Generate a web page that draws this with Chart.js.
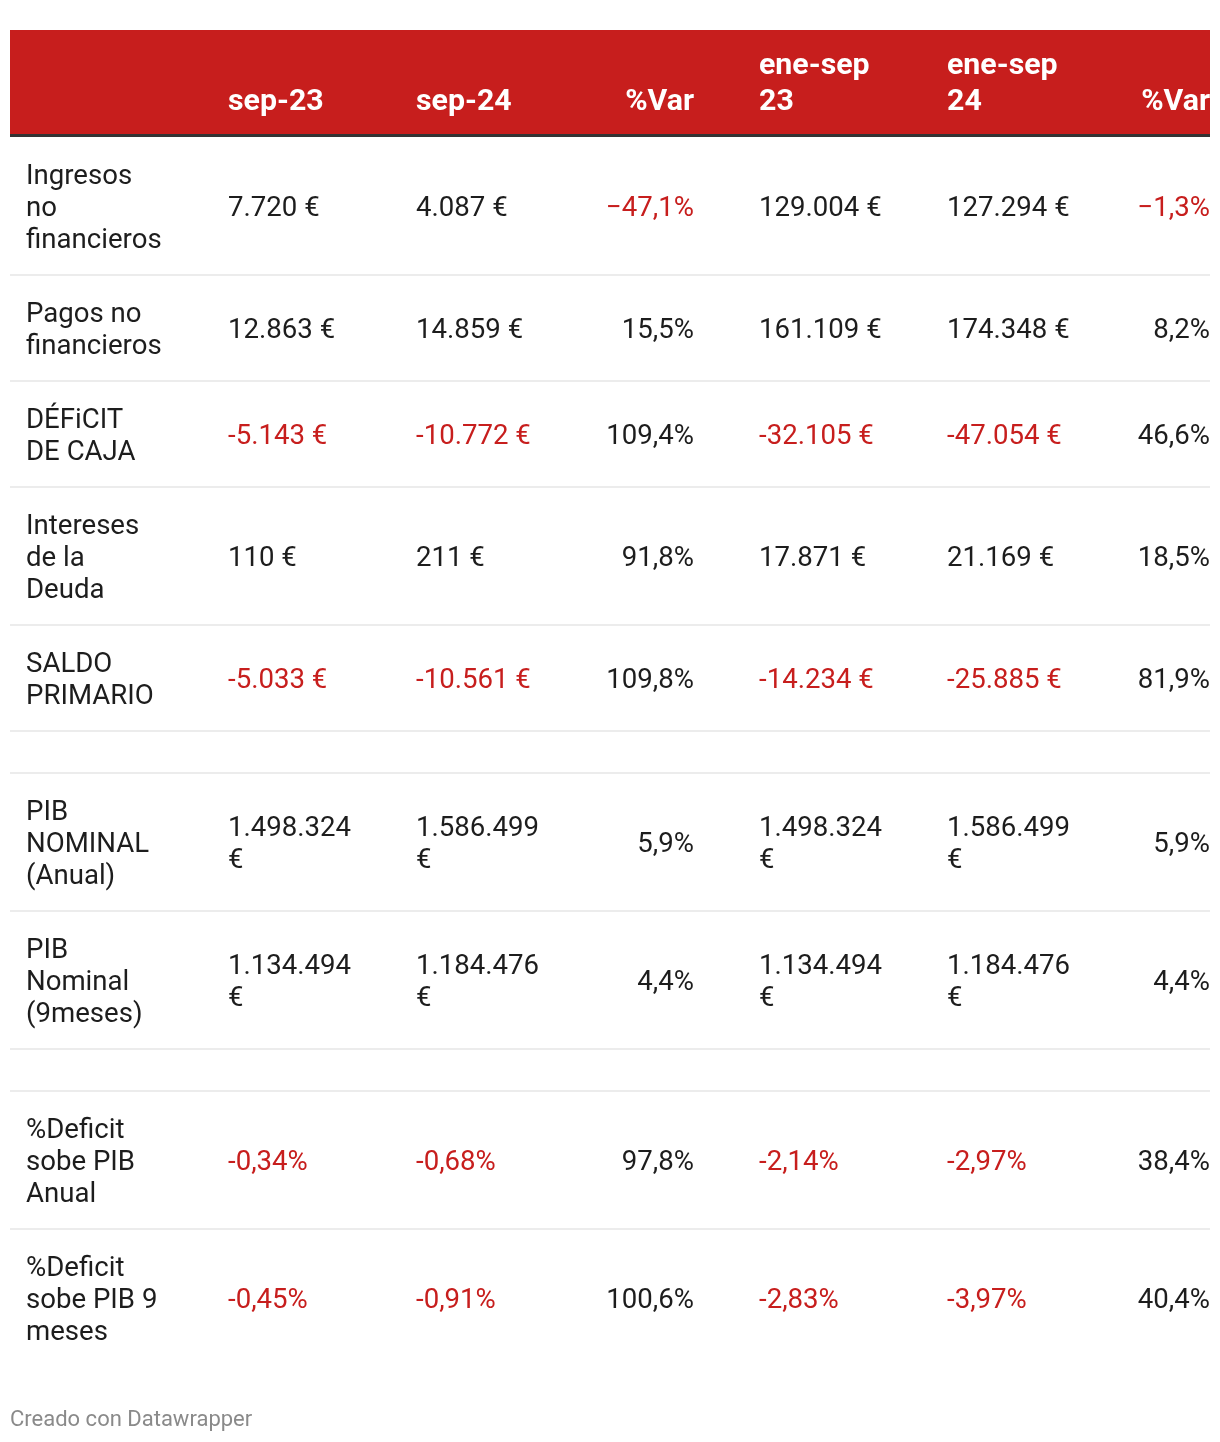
<!DOCTYPE html>
<html>
<head>
<meta charset="utf-8">
<script src="https://cdn.jsdelivr.net/npm/chart.js@4/dist/chart.umd.min.js"></script>
<style>
html,body{margin:0;padding:0;background:#fff;}
#wrap{width:1220px;height:1442px;position:relative;}
</style>
</head>
<body>
<div id="wrap"><canvas id="c" width="1220" height="1442"></canvas></div>
<script>
// ---------- DATA ----------
const headers = ["", "sep-23", "sep-24", "%Var", "ene-sep\n23", "ene-sep\n24", "%Var"];
const rowLabels = [
  "Ingresos\nno\nfinancieros",
  "Pagos no\nfinancieros",
  "DÉFiCIT\nDE CAJA",
  "Intereses\nde la\nDeuda",
  "SALDO\nPRIMARIO",
  "",
  "PIB\nNOMINAL\n(Anual)",
  "PIB\nNominal\n(9meses)",
  "",
  "%Deficit\nsobe PIB\nAnual",
  "%Deficit\nsobe PIB 9\nmeses"
];
const rowUnits = ["€", "€", "€", "€", "€", null, "€", "€", null, "%", "%"];
const sep23    = [7720, 12863, -5143, 110, -5033, null, 1498324, 1134494, null, -0.34, -0.45];
const sep24    = [4087, 14859, -10772, 211, -10561, null, 1586499, 1184476, null, -0.68, -0.91];
const varMes   = [-47.1, 15.5, 109.4, 91.8, 109.8, null, 5.9, 4.4, null, 97.8, 100.6];
const eneSep23 = [129004, 161109, -32105, 17871, -14234, null, 1498324, 1134494, null, -2.14, -2.83];
const eneSep24 = [127294, 174348, -47054, 21169, -25885, null, 1586499, 1184476, null, -2.97, -3.97];
const varAcum  = [-1.3, 8.2, 46.6, 18.5, 81.9, null, 5.9, 4.4, null, 38.4, 40.4];
const footerText = "Creado con Datawrapper";

// ---------- LAYOUT / STYLE ----------
const W = 1220, H = 1442;
const tableLeft = 10, tableRight = 1210;
const headerTop = 30, headerBottom = 134, bodyTop = 137;
const lineH = 32, rowPad = 42, headLineH = 36, headLastLine = 102.5;
const textShift = 3;
const colAnchor = [26, 228, 416, 694, 759, 947, 1210];
const colAlign  = ["left", "left", "left", "right", "left", "left", "right"];
const colKind   = ["label", "val", "val", "var", "val", "val", "var"];
const valueWrap = 135;
const RED = "#c71e1d", TEXT = "#1d1d1d";
const FONT = "Roboto, 'Noto Sans', sans-serif";
const bodyFont = "400 27.6px " + FONT;
const headFont = "700 30.3px " + FONT;

function groupThousands(n) {
  return String(n).replace(/\B(?=(\d{3})+(?!\d))/g, ".");
}
function fmt(kind, v, unit) {
  if (v === null || v === undefined) return "";
  if (kind === "var") {
    const s = Math.abs(v).toFixed(1).replace(".", ",") + "%";
    return (v < 0 ? "\u2212" : "") + s;
  }
  if (unit === "%") {
    return (v < 0 ? "-" : "") + Math.abs(v).toFixed(2).replace(".", ",") + "%";
  }
  return (v < 0 ? "-" : "") + groupThousands(Math.abs(v)) + " €";
}

const columns = [rowLabels, sep23, sep24, varMes, eneSep23, eneSep24, varAcum];

const mctx = document.createElement("canvas").getContext("2d");
function wrapText(txt, maxW) {
  if (!txt) return [];
  mctx.font = bodyFont;
  if (mctx.measureText(txt).width <= maxW) return [txt];
  const words = txt.split(" ");
  const lines = [];
  let cur = "";
  for (const w of words) {
    const t = cur ? cur + " " + w : w;
    if (cur && mctx.measureText(t).width > maxW) { lines.push(cur); cur = w; }
    else cur = t;
  }
  if (cur) lines.push(cur);
  return lines;
}

const cells = columns.map((col, c) => col.map((v, r) => {
  if (colKind[c] === "label") return { lines: v ? v.split("\n") : [], red: false };
  const s = fmt(colKind[c], v, rowUnits[r]);
  return { lines: colKind[c] === "val" ? wrapText(s, valueWrap) : (s ? [s] : []), red: v !== null && v < 0 };
}));

const rowLines = rowLabels.map((_, r) => Math.max(0, ...cells.map(col => col[r].lines.length)));
const rowTops = [], rowCenters = [];
let yy = bodyTop;
rowLines.forEach(n => {
  const h = n * lineH + rowPad;
  rowTops.push(yy);
  rowCenters.push(yy + h / 2);
  yy += h;
});
const rowEnds = rowTops.map((t, i) => t + rowLines[i] * lineH + rowPad);

const datasets = columns.map((col, c) => ({
  label: headers[c] || "Concepto",
  data: col.map((_, r) => ({ x: colAnchor[c], y: rowCenters[r] })),
  pointRadius: 0,
  pointHoverRadius: 0,
  showLine: false
}));

const tablePlugin = {
  id: "tablePlugin",
  beforeDatasetsDraw(chart) {
    const ctx = chart.ctx, xs = chart.scales.x, ys = chart.scales.y;
    ctx.save();
    const L = xs.getPixelForValue(tableLeft), R = xs.getPixelForValue(tableRight);
    ctx.fillStyle = RED;
    ctx.fillRect(L, ys.getPixelForValue(headerTop), R - L, ys.getPixelForValue(headerBottom) - ys.getPixelForValue(headerTop));
    ctx.fillStyle = "#333333";
    ctx.fillRect(L, ys.getPixelForValue(headerBottom), R - L, ys.getPixelForValue(bodyTop) - ys.getPixelForValue(headerBottom));
    ctx.fillStyle = "#ececec";
    rowEnds.forEach((e, i) => {
      if (i === rowEnds.length - 1) return;
      ctx.fillRect(L, ys.getPixelForValue(e) - 1, R - L, 2);
    });
    ctx.restore();
  },
  afterDatasetsDraw(chart) {
    const ctx = chart.ctx, xs = chart.scales.x, ys = chart.scales.y;
    ctx.save();
    const L = xs.getPixelForValue(tableLeft), R = xs.getPixelForValue(tableRight);
    ctx.beginPath();
    ctx.rect(L, 0, R - L, H);
    ctx.clip();
    ctx.textBaseline = "middle";
    ctx.font = headFont;
    ctx.fillStyle = "#ffffff";
    headers.forEach((h, c) => {
      if (!h) return;
      const ls = h.split("\n");
      ctx.textAlign = colAlign[c];
      ls.forEach((ln, k) => {
        const y = ys.getPixelForValue(headLastLine - (ls.length - 1 - k) * headLineH);
        ctx.fillText(ln, xs.getPixelForValue(colAnchor[c]), y);
      });
    });
    ctx.font = bodyFont;
    chart.data.datasets.forEach((ds, c) => {
      const meta = chart.getDatasetMeta(c);
      ctx.textAlign = colAlign[c];
      meta.data.forEach((pt, r) => {
        const cell = cells[c][r];
        ctx.fillStyle = cell.red ? RED : TEXT;
        const n = cell.lines.length;
        cell.lines.forEach((ln, k) => {
          ctx.fillText(ln, pt.x, pt.y + textShift + (k - (n - 1) / 2) * lineH);
        });
      });
    });
    ctx.restore();
    ctx.save();
    ctx.font = "400 22px " + FONT;
    ctx.fillStyle = "#8a8a8a";
    ctx.textAlign = "left";
    ctx.textBaseline = "middle";
    ctx.fillText(footerText, xs.getPixelForValue(tableLeft), ys.getPixelForValue(1420));
    ctx.restore();
  }
};

new Chart(document.getElementById("c"), {
  type: "scatter",
  data: { datasets },
  options: {
    responsive: false,
    animation: false,
    events: [],
    layout: { padding: 0 },
    plugins: { legend: { display: false }, tooltip: { enabled: false }, title: { display: false } },
    scales: {
      x: { type: "linear", min: 0, max: W, display: false },
      y: { type: "linear", min: 0, max: H, reverse: true, display: false }
    }
  },
  plugins: [tablePlugin]
});
</script>
</body>
</html>
